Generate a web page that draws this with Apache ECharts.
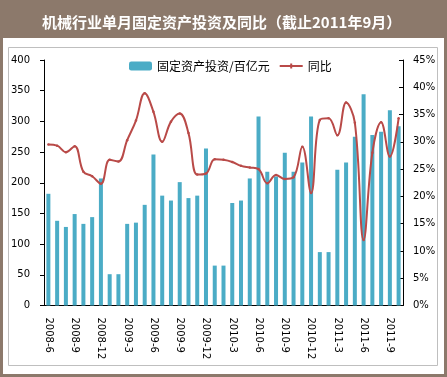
<!DOCTYPE html>
<html lang="zh">
<head>
  <meta charset="UTF-8">
  <title>机械行业单月固定资产投资及同比</title>
  <script src="https://cdn.jsdelivr.net/npm/echarts@6/dist/echarts.min.js"></script>
  <style>
    html, body { margin: 0; padding: 0; background: #8c796b; }
    #main { width: 447px; height: 377px; }
  </style>
</head>
<body>
<div id="main"></div>
<script>
// months 2008-6 .. 2011-10
var months = [];
for (var y = 2008, m = 6; months.length < 41; ) {
  months.push(y + '-' + m);
  m++;
  if (m > 12) { m = 1; y++; }
}

// 固定资产投资（百亿元）
var invest = [182, 138, 128, 149, 133, 144, 207, 51, 51, 133,
              135, 164, 246, 179, 171, 201, 175, 179, 256, 65,
              65, 167, 171, 207, 308, 218, 210, 249, 218, 233,
              308, 87, 87, 221, 233, 275, 344, 278, 283, 318, 292];

// 同比（%）
var yoy = [29.5, 29.3, 28.1, 29.2, 24.5, 23.7, 22.3, 26.7, 26.4, 30.3,
           33.9, 38.9, 35.5, 30.0, 33.7, 35.2, 31.6, 24.0, 24.2, 26.8,
           26.7, 26.3, 25.6, 25.3, 25.0, 22.4, 23.9, 23.2, 23.5, 29.1,
           20.6, 34.0, 34.3, 31.2, 37.2, 33.5, 12.0, 28.0, 33.6, 27.3, 34.3];

var chart = echarts.init(document.getElementById('main'));
var numFont = 'DejaVu Sans';
var cjkFont = '"Noto Sans CJK SC", sans-serif';

chart.setOption({
  animation: false,
  backgroundColor: '#8c796b',
  title: {
    text: '机械行业单月固定资产投资及同比（截止2011年9月）',
    left: 37,
    top: 10,
    textStyle: { color: '#fff', fontSize: 15, fontWeight: 'bold', fontFamily: cjkFont }
  },
  graphic: [
    { type: 'rect', z: -10, shape: { x: 3, y: 38, width: 441, height: 336 }, style: { fill: '#fff' } },
    { type: 'rect', z: -9, shape: { x: 8.5, y: 47.5, width: 429, height: 318 }, style: { fill: 'none', stroke: '#bfbfbf', lineWidth: 1 } }
  ],
  legend: {
    left: 124,
    top: 55,
    itemWidth: 23,
    itemHeight: 9,
    itemGap: 10,
    textStyle: { fontSize: 12, fontFamily: cjkFont, color: '#000' },
    data: [
      '固定资产投资/百亿元',
      { name: '同比', icon: 'path://M0,3.5h23v2h-23z M10.5,2h2v5h-2z' }
    ]
  },
  grid: { left: 44, right: 44, top: 60, bottom: 71.5 },
  xAxis: {
    type: 'category',
    data: months,
    axisLine: { lineStyle: { color: '#000' } },
    axisTick: { interval: 0, inside: true, length: 4, lineStyle: { color: '#000' } },
    axisLabel: { interval: 2, rotate: -90, margin: 12, fontSize: 10, fontFamily: numFont, color: '#000' }
  },
  yAxis: [
    {
      type: 'value', min: 0, max: 400, interval: 50,
      splitLine: { show: false },
      axisLine: { show: true, lineStyle: { color: '#000' } },
      axisTick: { show: true, length: 4, lineStyle: { color: '#000' } },
      axisLabel: { margin: 14, fontSize: 10, fontFamily: numFont, color: '#000' }
    },
    {
      type: 'value', min: 0, max: 45, interval: 5,
      splitLine: { show: false },
      axisLine: { show: true, lineStyle: { color: '#000' } },
      axisTick: { show: true, inside: true, length: 4, lineStyle: { color: '#000' } },
      axisLabel: { formatter: '{value}%', margin: 10, fontSize: 10, fontFamily: numFont, color: '#000' }
    }
  ],
  series: [
    {
      name: '固定资产投资/百亿元',
      type: 'bar',
      data: invest,
      barWidth: 4,
      itemStyle: { color: '#4bacc6' }
    },
    {
      name: '同比',
      type: 'line',
      yAxisIndex: 1,
      data: yoy,
      smooth: 0.4,
      symbol: 'circle',
      symbolSize: 2.5,
      lineStyle: { color: '#b94a48', width: 2 },
      itemStyle: { color: '#b94a48' }
    }
  ]
});
</script>
</body>
</html>
